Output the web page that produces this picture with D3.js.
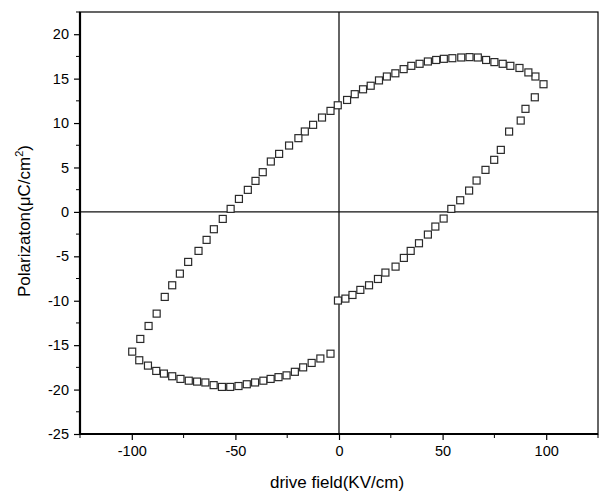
<!DOCTYPE html>
<html>
<head>
<meta charset="utf-8">
<script src="https://cdn.jsdelivr.net/npm/d3@7"></script>
<style>
    body { margin: 0; background: #fff; }
    svg { display: block; font-family: "Liberation Sans", Arial, sans-serif; }
</style>
</head>
<body>
<div class="plot"></div>
<script>
// branch 1: from 0 up to +max field (lower right)
var fieldUp = [-0.5, 3.1, 6.5, 10.3, 14.5, 18.8, 22.4, 27.3, 31.3, 34.6, 38.6, 42.9, 46.5, 50.5,
    54.2, 58.5, 62.8, 66.4, 70.7, 74.9, 78.1, 82.1, 87.7, 90.0, 94.5, 98.7];
var polUp = [-9.98, -9.76, -9.35, -8.78, -8.26, -7.55, -6.83, -6.16, -5.18, -4.39, -3.53, -2.55, -1.65, -0.75,
    0.34, 1.31, 2.4, 3.53, 4.73, 5.86, 6.98, 9.04, 10.28, 11.6, 12.9, 14.37];

// branch 2: from +max back to -max (upper)
var fieldDown = [94.8, 91.4, 87.1, 82.7, 79.0, 75.0, 71.0, 67.0, 63.0, 59.0, 54.7, 50.6, 46.9, 42.9,
    38.9, 34.9, 31.2, 27.2, 23.1, 19.3, 15.3, 11.6, 7.6, 3.9, -0.6, -4.1, -8.2, -12.5, -16.5, -19.6,
    -24.1, -28.9, -32.9, -36.8, -40.3, -44.0, -48.3, -52.3, -56.1, -60.4, -63.9, -67.8, -72.8, -76.8,
    -80.5, -84.1, -88.0, -91.9, -95.9, -99.8];
var polDown = [15.24, 15.7, 16.2, 16.44, 16.67, 16.86, 17.1, 17.38, 17.42, 17.38, 17.3, 17.23, 17.1, 16.93,
    16.67, 16.44, 16.07, 15.6, 15.24, 14.8, 14.2, 13.8, 13.25, 12.6, 12.0, 11.37, 10.62, 9.8, 9.05, 8.3,
    7.47, 6.53, 5.67, 4.47, 3.49, 2.48, 1.46, 0.34, -0.79, -1.95, -3.15, -4.39, -5.63, -6.95,
    -8.26, -9.57, -11.45, -12.84, -14.3, -15.73];

// branch 3: from -max back to 0 (bottom)
var fieldBack = [-96.4, -92.2, -88.2, -84.5, -80.5, -76.5, -72.5, -68.5, -64.5, -60.5, -56.5, -52.5,
    -48.5, -44.5, -40.5, -36.5, -33.0, -29.2, -25.3, -21.3, -17.3, -13.2, -9.0, -4.1];
var polBack = [-16.7, -17.3, -17.9, -18.2, -18.5, -18.8, -19.0, -19.1, -19.2, -19.5, -19.7, -19.7,
    -19.6, -19.4, -19.2, -19.0, -18.8, -18.6, -18.4, -18.0, -17.5, -17.0, -16.5, -15.96];

var xTicks = [-100, -50, 0, 50, 100];
var xMinor = [-125, -75, -25, 25, 75, 125];
var yTicks = [-25, -20, -15, -10, -5, 0, 5, 10, 15, 20];
var yMinor = [-22.5, -17.5, -12.5, -7.5, -2.5, 2.5, 7.5, 12.5, 17.5, 22.5];

var W = 600, H = 494;
var margin = {top: 12, right: 2, bottom: 60, left: 80},
    width = W - margin.left - margin.right,
    height = H - margin.top - margin.bottom;

var svg = d3.select(".plot").append("svg")
    .attr("width", W)
    .attr("height", H);

var g = svg.append("g")
    .attr("transform", "translate(" + margin.left + "," + margin.top + ")");

var xScale = d3.scaleLinear().domain([-125, 125]).range([0, width]);
var yScale = d3.scaleLinear().domain([-25, 22.5]).range([height, 0]);

// plain hyphen for negatives, like the original plot
var fmt = function(d) { return String(d); };

// frame (top + right thin)
g.append("rect")
    .attr("x", 0).attr("y", 0)
    .attr("width", width).attr("height", height)
    .attr("fill", "none").attr("stroke", "#000").attr("stroke-width", 1.2);

// zero lines
g.append("line")
    .attr("x1", 0).attr("x2", width)
    .attr("y1", yScale(0)).attr("y2", yScale(0))
    .attr("stroke", "#111").attr("stroke-width", 1.3);
g.append("line")
    .attr("x1", xScale(0)).attr("x2", xScale(0))
    .attr("y1", 0).attr("y2", height)
    .attr("stroke", "#111").attr("stroke-width", 1.3);

// x axis
var xAxis = d3.axisBottom(xScale).tickValues(xTicks).tickSize(6).tickPadding(6)
    .tickFormat(fmt);
var gx = g.append("g")
    .attr("transform", "translate(0," + height + ")")
    .call(xAxis);
gx.append("g").selectAll("line")
    .data(xMinor).enter().append("line")
    .attr("x1", function(d) { return xScale(d); })
    .attr("x2", function(d) { return xScale(d); })
    .attr("y1", 0).attr("y2", 4)
    .attr("stroke", "#000");

// y axis
var yAxis = d3.axisLeft(yScale).tickValues(yTicks).tickSize(6).tickPadding(5)
    .tickFormat(fmt);
var gy = g.append("g").call(yAxis);
gy.append("g").selectAll("line")
    .data(yMinor).enter().append("line")
    .attr("y1", function(d) { return yScale(d); })
    .attr("y2", function(d) { return yScale(d); })
    .attr("x1", 0).attr("x2", -4)
    .attr("stroke", "#000");

[gx, gy].forEach(function(a) {
    a.select(".domain").attr("stroke", "#000").attr("stroke-width", 2.2);
    a.selectAll(".tick line").attr("stroke", "#000").attr("stroke-width", 1.2);
    a.selectAll(".tick text")
        .attr("fill", "#000")
        .style("font-size", "14.5px")
        .style("font-family", "'Liberation Sans', Arial, sans-serif");
});
gx.select(".domain").attr("d", "M0,0H" + width);
gy.select(".domain").attr("d", "M0,0V" + height);

// labels
svg.append("text")
    .attr("x", margin.left + xScale(0) - 2)
    .attr("y", 488)
    .attr("text-anchor", "middle")
    .style("font-size", "17px")
    .text("drive field(KV/cm)");

var yl = svg.append("text")
    .attr("transform", "translate(30," + (margin.top + height / 2 - 2) + ") rotate(-90)")
    .attr("text-anchor", "middle")
    .style("font-size", "17px");
yl.append("tspan").text("Polarizaton(\u03bcC/cm");
yl.append("tspan").attr("dy", -7).style("font-size", "11px").text("2");
yl.append("tspan").attr("dy", 7).text(")");

// data points
var points = [];
fieldUp.forEach(function(e, i) { points.push([e, polUp[i]]); });
fieldDown.forEach(function(e, i) { points.push([e, polDown[i]]); });
fieldBack.forEach(function(e, i) { points.push([e, polBack[i]]); });

var s = 7;
g.selectAll(".dot")
    .data(points)
    .enter().append("rect")
    .attr("class", "dot")
    .attr("x", function(d) { return xScale(d[0]) - s / 2; })
    .attr("y", function(d) { return yScale(d[1]) - s / 2; })
    .attr("width", s).attr("height", s)
    .attr("fill", "#fff")
    .attr("stroke", "#2a2a2a")
    .attr("stroke-width", 1.2);
</script>
</body>
</html>
